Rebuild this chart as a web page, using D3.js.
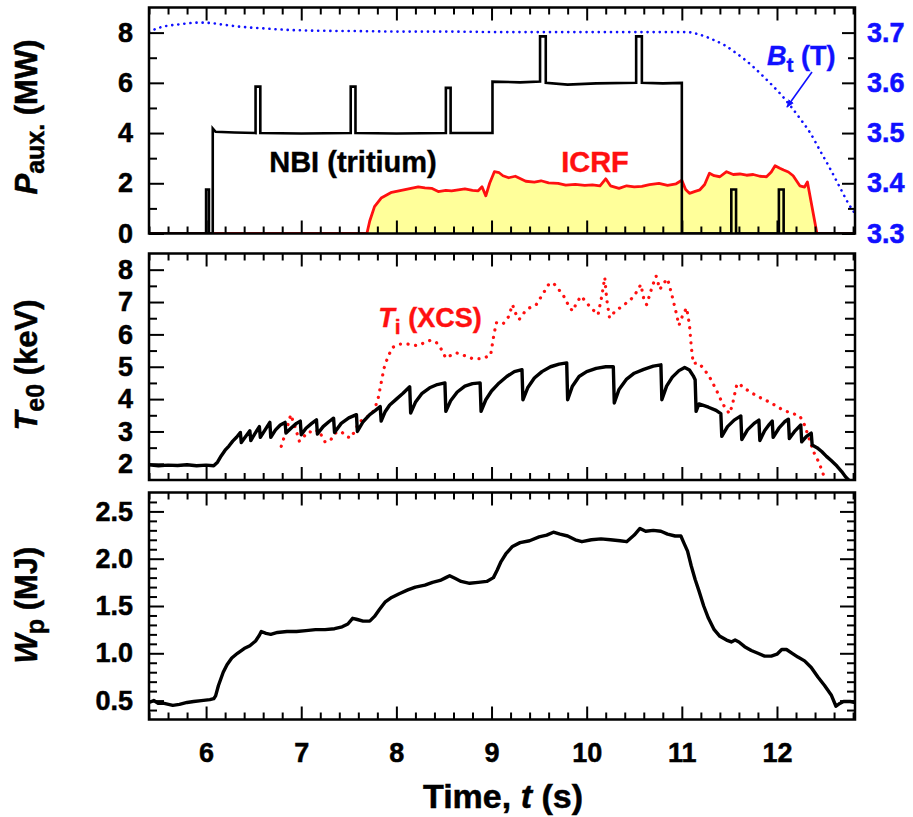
<!DOCTYPE html>
<html><head><meta charset="utf-8">
<script src="https://cdn.jsdelivr.net/npm/d3@7"></script>
<style>
body{margin:0;background:#fff}
svg{display:block}
text{font-family:"Liberation Sans",Arial,Helvetica,sans-serif;font-weight:bold}
</style>
</head><body>
<svg id="c" width="913" height="817"></svg>
<script>
// ---------- tick labels ----------
const timeTicks = [6, 7, 8, 9, 10, 11, 12];
const pauxTicks = [0, 2, 4, 6, 8];
const btTicks = [3.3, 3.4, 3.5, 3.6, 3.7];
const teTicks = [2, 3, 4, 5, 6, 7, 8];
const wpTicks = [0.5, 1.0, 1.5, 2.0, 2.5];

// ---------- series (t [s], value) ----------
const nbi = [[5.4,0],[6.0,0],[6.0,1.75],[6.03,1.75],[6.03,0],[6.07,0],[6.07,4.18],[6.1,4.05],[6.3,4.02],[6.52,4.0],[6.52,5.85],[6.57,5.85],[6.57,4.0],[7.0,3.98],[7.52,4.0],[7.52,5.85],[7.57,5.85],[7.57,4.0],[8.0,3.98],[8.52,4.0],[8.52,5.8],[8.57,5.8],[8.57,4.0],[9.01,4.0],[9.01,6.05],[9.3,6.02],[9.51,6.05],[9.51,7.85],[9.57,7.85],[9.57,6.0],[9.8,5.93],[10.1,5.98],[10.52,6.0],[10.52,7.85],[10.58,7.85],[10.58,6.0],[10.8,5.98],[11.0,6.0],[11.0,0],[11.52,0],[11.52,1.75],[11.57,1.75],[11.57,0],[12.02,0],[12.02,1.75],[12.07,1.75],[12.07,0],[12.82,0]];
const icrf = [[5.4,0],[7.69,0],[7.72,0.5],[7.77,1.07],[7.84,1.41],[7.95,1.64],[8.09,1.75],[8.23,1.86],[8.3,1.82],[8.37,1.8],[8.44,1.67],[8.52,1.72],[8.58,1.7],[8.65,1.74],[8.72,1.78],[8.8,1.72],[8.86,1.7],[8.9,1.86],[8.94,1.5],[8.98,2.0],[9.03,2.46],[9.08,2.42],[9.12,2.3],[9.18,2.22],[9.25,2.28],[9.36,2.08],[9.45,2.05],[9.52,2.1],[9.6,2.02],[9.7,2.0],[9.78,1.93],[9.88,1.96],[9.98,1.92],[10.06,1.94],[10.14,1.9],[10.2,2.18],[10.25,1.9],[10.34,1.8],[10.42,1.9],[10.5,1.86],[10.58,1.88],[10.66,1.95],[10.76,2.0],[10.85,1.92],[10.94,1.98],[11.0,2.12],[11.04,1.75],[11.08,1.6],[11.14,1.68],[11.19,1.74],[11.24,1.95],[11.29,2.4],[11.34,2.3],[11.4,2.26],[11.47,2.46],[11.54,2.35],[11.61,2.37],[11.68,2.32],[11.75,2.35],[11.82,2.28],[11.89,2.26],[11.94,2.45],[11.98,2.7],[12.03,2.6],[12.07,2.53],[12.12,2.45],[12.17,2.3],[12.24,1.9],[12.29,1.85],[12.32,2.05],[12.42,0],[12.82,0]];
const bt = [[5.4,3.701],[5.48,3.708],[5.55,3.712],[5.7,3.716],[5.93,3.720],[6.05,3.719],[6.21,3.715],[6.4,3.711],[6.56,3.709],[6.8,3.706],[7.1,3.704],[7.6,3.703],[8.1,3.702],[8.6,3.702],[9.1,3.701],[9.6,3.701],[10.1,3.701],[10.6,3.701],[11.05,3.701],[11.15,3.698],[11.25,3.692],[11.35,3.684],[11.45,3.675],[11.55,3.662],[11.65,3.648],[11.75,3.632],[11.85,3.614],[11.95,3.595],[12.05,3.575],[12.15,3.552],[12.25,3.527],[12.35,3.5],[12.45,3.466],[12.55,3.432],[12.65,3.396],[12.75,3.36],[12.82,3.34]];
const te0 = [[5.40,1.97],[5.50,1.94],[5.60,1.96],[5.70,1.95],[5.80,1.97],[5.90,1.94],[6.00,1.96],[6.08,1.94],[6.12,2.05],[6.16,2.25],[6.20,2.42],[6.24,2.55],[6.28,2.7],[6.32,2.82],[6.36,2.97],[6.37,2.66],[6.41,2.82],[6.46,3.02],[6.47,2.72],[6.51,2.92],[6.56,3.15],[6.57,2.82],[6.62,3.05],[6.67,3.28],[6.68,2.82],[6.73,3.05],[6.78,3.2],[6.83,3.28],[6.84,2.95],[6.9,3.12],[6.95,3.25],[6.99,3.32],[7.0,2.9],[7.05,3.1],[7.11,3.25],[7.16,3.36],[7.17,2.92],[7.23,3.15],[7.29,3.3],[7.34,3.41],[7.35,2.97],[7.42,3.25],[7.5,3.42],[7.58,3.52],[7.59,3.0],[7.65,3.3],[7.72,3.52],[7.78,3.65],[7.83,3.77],[7.84,3.32],[7.88,3.6],[7.93,3.82],[8.0,4.0],[8.07,4.18],[8.14,4.38],[8.15,3.57],[8.2,3.9],[8.27,4.18],[8.35,4.35],[8.43,4.45],[8.51,4.5],[8.52,3.62],[8.57,3.95],[8.64,4.22],[8.72,4.4],[8.8,4.48],[8.88,4.5],[8.89,3.62],[8.94,3.98],[9.0,4.25],[9.08,4.5],[9.16,4.7],[9.24,4.85],[9.32,4.91],[9.33,3.98],[9.38,4.35],[9.45,4.65],[9.53,4.85],[9.62,5.0],[9.71,5.08],[9.79,5.12],[9.8,3.98],[9.85,4.4],[9.92,4.7],[10.0,4.85],[10.1,4.95],[10.2,5.0],[10.28,5.0],[10.29,3.88],[10.34,4.3],[10.42,4.62],[10.5,4.8],[10.6,4.92],[10.7,5.02],[10.78,5.06],[10.79,3.98],[10.84,4.4],[10.9,4.68],[10.97,4.88],[11.03,4.98],[11.08,4.9],[11.12,4.72],[11.14,4.6],[11.15,3.62],[11.18,3.85],[11.28,3.75],[11.36,3.65],[11.41,3.55],[11.42,2.85],[11.48,3.15],[11.55,3.35],[11.62,3.48],[11.63,2.75],[11.69,3.05],[11.76,3.25],[11.81,3.35],[11.82,2.72],[11.87,3.02],[11.92,3.22],[11.95,3.32],[11.96,2.82],[12.02,3.1],[12.08,3.3],[12.12,3.38],[12.13,2.78],[12.19,3.02],[12.25,3.2],[12.26,2.68],[12.31,2.85],[12.36,2.95],[12.37,2.58],[12.42,2.5],[12.47,2.38],[12.52,2.23],[12.57,2.1],[12.63,1.93],[12.68,1.76],[12.72,1.6],[12.76,1.48]];
const ti = [[6.79,2.54],[6.85,3.1],[6.89,3.52],[6.94,3.1],[6.98,2.7],[7.03,2.85],[7.08,3.0],[7.13,2.95],[7.18,3.05],[7.25,2.68],[7.3,2.7],[7.36,2.95],[7.42,3.0],[7.47,2.85],[7.52,2.8],[7.57,3.05],[7.6,3.26],[7.66,3.4],[7.72,3.5],[7.77,3.67],[7.81,4.05],[7.84,4.5],[7.87,4.95],[7.91,5.3],[7.96,5.6],[8.04,5.7],[8.12,5.7],[8.22,5.65],[8.3,5.75],[8.36,5.82],[8.42,5.75],[8.47,5.55],[8.52,5.27],[8.57,5.35],[8.63,5.43],[8.71,5.35],[8.8,5.25],[8.9,5.25],[8.99,5.35],[9.02,5.9],[9.05,6.36],[9.12,6.32],[9.18,6.55],[9.22,6.92],[9.26,6.6],[9.29,6.46],[9.35,6.7],[9.4,6.82],[9.47,6.92],[9.55,7.3],[9.61,7.59],[9.66,7.55],[9.75,7.23],[9.8,6.95],[9.85,6.72],[9.9,7.0],[9.94,7.18],[9.98,7.05],[10.03,6.87],[10.08,6.72],[10.12,6.61],[10.16,7.2],[10.19,7.76],[10.21,7.1],[10.24,6.51],[10.3,6.72],[10.38,6.88],[10.45,7.05],[10.5,7.18],[10.54,7.4],[10.57,7.54],[10.6,7.1],[10.63,6.92],[10.66,7.2],[10.69,7.49],[10.73,7.8],[10.77,7.39],[10.8,7.55],[10.85,7.72],[10.89,7.28],[10.93,6.8],[10.97,6.28],[11.01,6.6],[11.05,6.82],[11.08,6.3],[11.1,5.6],[11.12,5.1],[11.17,5.12],[11.22,4.98],[11.29,4.69],[11.36,4.3],[11.43,3.85],[11.5,3.55],[11.53,3.8],[11.55,4.08],[11.58,4.48],[11.61,4.46],[11.65,4.35],[11.72,4.22],[11.8,4.08],[11.87,3.98],[11.94,3.88],[12.01,3.75],[12.08,3.64],[12.16,3.56],[12.24,3.48],[12.29,3.2],[12.33,2.85],[12.38,2.4],[12.44,2.05],[12.49,1.65],[12.52,1.55]];
const wp = [[5.40,0.48],[5.45,0.5],[5.5,0.47],[5.56,0.47],[5.65,0.45],[5.72,0.46],[5.8,0.48],[5.87,0.49],[5.95,0.5],[6.04,0.51],[6.08,0.52],[6.1,0.55],[6.13,0.66],[6.18,0.8],[6.22,0.88],[6.27,0.95],[6.33,1.0],[6.4,1.05],[6.46,1.08],[6.52,1.13],[6.56,1.19],[6.58,1.23],[6.63,1.21],[6.68,1.2],[6.75,1.22],[6.85,1.23],[6.95,1.23],[7.05,1.24],[7.15,1.25],[7.25,1.25],[7.35,1.26],[7.43,1.28],[7.49,1.31],[7.54,1.37],[7.58,1.36],[7.65,1.34],[7.72,1.34],[7.77,1.39],[7.82,1.46],[7.88,1.54],[7.95,1.59],[8.03,1.63],[8.12,1.67],[8.2,1.7],[8.3,1.72],[8.38,1.75],[8.46,1.77],[8.52,1.8],[8.56,1.82],[8.62,1.79],[8.68,1.76],[8.77,1.74],[8.86,1.75],[8.95,1.76],[9.02,1.8],[9.06,1.88],[9.1,1.97],[9.15,2.05],[9.22,2.13],[9.3,2.17],[9.4,2.19],[9.5,2.23],[9.58,2.25],[9.65,2.28],[9.72,2.26],[9.8,2.24],[9.88,2.2],[9.95,2.18],[10.05,2.2],[10.15,2.21],[10.25,2.2],[10.35,2.19],[10.42,2.18],[10.5,2.25],[10.56,2.32],[10.62,2.29],[10.7,2.3],[10.78,2.29],[10.85,2.26],[10.93,2.24],[10.99,2.24],[11.02,2.17],[11.06,2.08],[11.1,1.92],[11.14,1.78],[11.18,1.66],[11.23,1.5],[11.28,1.37],[11.34,1.25],[11.4,1.18],[11.47,1.14],[11.52,1.12],[11.56,1.14],[11.6,1.12],[11.66,1.07],[11.73,1.03],[11.8,1.0],[11.87,0.97],[11.94,0.97],[12.0,0.99],[12.05,1.04],[12.1,1.04],[12.16,1.0],[12.22,0.96],[12.29,0.92],[12.36,0.85],[12.43,0.75],[12.5,0.66],[12.57,0.56],[12.62,0.44],[12.66,0.47],[12.7,0.49],[12.77,0.49],[12.82,0.48]];

// ---------- layout ----------
const svg = d3.select("#c");
const X0 = 149, X1 = 855;
const x = d3.scaleLinear().domain([5.4, 12.82]).range([X0, X1]);
const p1 = {top: 7.5, bot: 233.5}, p2 = {top: 253.5, bot: 480}, p3 = {top: 492.5, bot: 719.5};
const yP = d3.scaleLinear().domain([0, 9]).range([p1.bot, p1.top]);
const yB = d3.scaleLinear().domain([3.3, 3.75]).range([p1.bot, p1.top]);
const yT = d3.scaleLinear().domain([1.5, 8.5]).range([p2.bot, p2.top]);
const yW = d3.scaleLinear().domain([0.3, 2.7]).range([p3.bot, p3.top]);

const RED = "#ff1010", BLUE = "#1010ff", YEL = "#ffff9a";
const TICKFONT = 27;

function rng(a, b, s) { const out = []; for (let v = a; v <= b + 1e-9; v += s) out.push(+v.toFixed(4)); return out; }
const minorX = rng(5.4, 12.8, 0.2).filter(v => Math.abs(v - Math.round(v)) > 1e-6);

const defs = svg.append("defs");
[["c1", p1], ["c2", p2], ["c3", p3]].forEach(([id, p]) => {
  defs.append("clipPath").attr("id", id).append("rect").attr("x", X0).attr("y", p.top).attr("width", X1 - X0).attr("height", p.bot - p.top);
});
defs.append("marker").attr("id", "arr").attr("viewBox", "0 0 10 10").attr("refX", 9).attr("refY", 5)
  .attr("markerWidth", 8).attr("markerHeight", 8).attr("orient", "auto-start-reverse").attr("markerUnits", "userSpaceOnUse")
  .append("path").attr("d", "M0,1 L10,5 L0,9 Z").attr("fill", BLUE);

function styleAxis(g, labels, color) {
  g.select(".domain").remove();
  g.selectAll(".tick line").attr("stroke", "#000").attr("stroke-width", 2);
  const c = color || "#000";
  g.selectAll("text").attr("font-size", TICKFONT).attr("fill", c).attr("stroke", c).attr("stroke-width", 0.5)
    .attr("font-family", "Liberation Sans, Arial, sans-serif").attr("font-weight", "bold");
  if (!labels) g.selectAll("text").remove();
}

function xAxes(p, labels) {
  const gb = svg.append("g").attr("transform", `translate(0,${p.bot})`)
    .call(d3.axisBottom(x).tickValues(timeTicks).tickSize(-13).tickPadding(23).tickFormat(d3.format("d")));
  styleAxis(gb, labels);
  gb.selectAll("text").attr("dy", "0.71em");
  const gbm = svg.append("g").attr("transform", `translate(0,${p.bot})`).call(d3.axisBottom(x).tickValues(minorX).tickSize(-7).tickFormat(""));
  styleAxis(gbm, false);
  const gt = svg.append("g").attr("transform", `translate(0,${p.top})`).call(d3.axisTop(x).tickValues(timeTicks).tickSize(-13).tickFormat(""));
  styleAxis(gt, false);
  const gtm = svg.append("g").attr("transform", `translate(0,${p.top})`).call(d3.axisTop(x).tickValues(minorX).tickSize(-7).tickFormat(""));
  styleAxis(gtm, false);
}

function yAxes(y, major, minor, fmt, side, len, labels, color) {
  const ax = side === "left" ? d3.axisLeft : d3.axisRight;
  const xp = side === "left" ? X0 : X1;
  const g = svg.append("g").attr("transform", `translate(${xp},0)`)
    .call(ax(y).tickValues(major).tickSize(-len[0]).tickPadding(side === "left" ? 16 : 12).tickFormat(fmt));
  styleAxis(g, labels, color);
  if (minor.length) {
    const gm = svg.append("g").attr("transform", `translate(${xp},0)`).call(ax(y).tickValues(minor).tickSize(-len[1]).tickFormat(""));
    styleAxis(gm, false);
  }
}

// ---------- panel 1 ----------
const area = d3.area().x(d => x(d[0])).y0(yP(0)).y1(d => yP(d[1]));
const lineP = d3.line().x(d => x(d[0])).y(d => yP(d[1]));
const g1 = svg.append("g").attr("clip-path", "url(#c1)");
g1.append("path").datum(icrf).attr("d", area).attr("fill", YEL).attr("stroke", "none");
g1.append("path").datum(icrf).attr("d", lineP).attr("fill", "none").attr("stroke", RED).attr("stroke-width", 2.8).attr("stroke-linejoin", "round");
g1.append("path").datum(nbi).attr("d", lineP).attr("fill", "none").attr("stroke", "#000").attr("stroke-width", 2.6).attr("stroke-linejoin", "miter");
g1.append("path").datum(bt).attr("d", d3.line().curve(d3.curveMonotoneX).x(d => x(d[0])).y(d => yB(d[1])))
  .attr("fill", "none").attr("stroke", BLUE).attr("stroke-width", 2.6).attr("stroke-dasharray", "0.1 6").attr("stroke-linecap", "round");

// ---------- panel 2 ----------
const g2 = svg.append("g").attr("clip-path", "url(#c2)");
g2.append("path").datum(ti).attr("d", d3.line().x(d => x(d[0])).y(d => yT(d[1])))
  .attr("fill", "none").attr("stroke", RED).attr("stroke-width", 3.2).attr("stroke-dasharray", "0.1 7.5").attr("stroke-linecap", "round");
g2.append("path").datum(te0).attr("d", d3.line().x(d => x(d[0])).y(d => yT(d[1])))
  .attr("fill", "none").attr("stroke", "#000").attr("stroke-width", 3.4).attr("stroke-linejoin", "round");

// ---------- panel 3 ----------
const g3 = svg.append("g").attr("clip-path", "url(#c3)");
g3.append("path").datum(wp).attr("d", d3.line().x(d => x(d[0])).y(d => yW(d[1])))
  .attr("fill", "none").attr("stroke", "#000").attr("stroke-width", 3.4).attr("stroke-linejoin", "round");

// ---------- axes & frames ----------
xAxes(p1, false); xAxes(p2, false); xAxes(p3, true);
const wpMinor = rng(0.4, 2.6, 0.1).filter(v => Math.abs(v * 2 - Math.round(v * 2)) > 1e-6);
yAxes(yP, pauxTicks, [1, 3, 5, 7], d3.format("d"), "left", [15, 8], true);
yAxes(yB, btTicks, [3.35, 3.45, 3.55, 3.65], d3.format(".1f"), "right", [13, 7], true, BLUE);
yAxes(yT, teTicks, [2.5, 3.5, 4.5, 5.5, 6.5, 7.5], d3.format("d"), "left", [15, 8], true);
yAxes(yT, rng(2, 8, 0.5), [], null, "right", [10, 0], false);
yAxes(yW, wpTicks, wpMinor, d3.format(".1f"), "left", [15, 8], true);
yAxes(yW, wpTicks, wpMinor, null, "right", [15, 8], false);

[p1, p2, p3].forEach(p => svg.append("rect").attr("x", X0).attr("y", p.top).attr("width", X1 - X0).attr("height", p.bot - p.top)
  .attr("fill", "none").attr("stroke", "#000").attr("stroke-width", 2.5));

// ---------- labels ----------
function ylabel(cx, cy, main, sub, rest) {
  const t = svg.append("text").attr("transform", `translate(${cx},${cy}) rotate(-90)`).attr("text-anchor", "middle")
    .attr("font-size", 31).attr("fill", "#000").attr("stroke", "#000").attr("stroke-width", 0.5);
  t.append("tspan").attr("font-style", "italic").text(main);
  t.append("tspan").attr("font-size", 25).attr("dy", 7).text(sub);
  t.append("tspan").attr("dy", -7).text(rest);
}
ylabel(37, 117, "P", "aux.", " (MW)");
ylabel(37, 365, "T", "e0", " (keV)");
ylabel(37, 605, "W", "p", " (MJ)");

const xt = svg.append("text").attr("x", 503).attr("y", 808).attr("text-anchor", "middle").attr("font-size", 34)
  .attr("fill", "#000").attr("stroke", "#000").attr("stroke-width", 0.5);
xt.append("tspan").text("Time, ");
xt.append("tspan").attr("font-style", "italic").text("t");
xt.append("tspan").text(" (s)");

svg.append("text").attr("x", 353).attr("y", 172).attr("text-anchor", "middle").attr("font-size", 29).attr("fill", "#000").attr("stroke", "#000").attr("stroke-width", 0.4).text("NBI (tritium)");
svg.append("text").attr("x", 595).attr("y", 172).attr("text-anchor", "middle").attr("font-size", 29).attr("fill", RED).attr("stroke", RED).attr("stroke-width", 0.4).text("ICRF");

const btl = svg.append("text").attr("x", 767).attr("y", 65).attr("font-size", 27).attr("fill", BLUE).attr("stroke", BLUE).attr("stroke-width", 0.4);
btl.append("tspan").attr("font-style", "italic").text("B");
btl.append("tspan").attr("font-size", 21).attr("dy", 7).text("t");
btl.append("tspan").attr("dy", -7).text(" (T)");
svg.append("line").attr("x1", 812).attr("y1", 72).attr("x2", 787).attr("y2", 107)
  .attr("stroke", BLUE).attr("stroke-width", 1.6).attr("marker-end", "url(#arr)");

const til = svg.append("text").attr("x", 430).attr("y", 327).attr("text-anchor", "middle").attr("font-size", 27).attr("fill", RED).attr("stroke", RED).attr("stroke-width", 0.4);
til.append("tspan").attr("font-style", "italic").text("T");
til.append("tspan").attr("font-size", 21).attr("dy", 7).text("i");
til.append("tspan").attr("dy", -7).text(" (XCS)");
</script>
</body></html>
